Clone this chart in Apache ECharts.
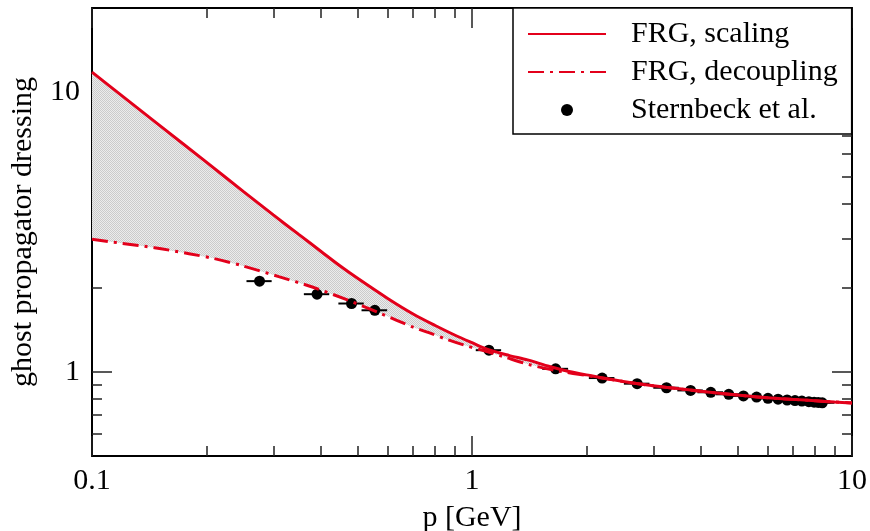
<!DOCTYPE html>
<html><head><meta charset="utf-8">
<script src="https://cdn.jsdelivr.net/npm/echarts@6/dist/echarts.min.js"></script>
<style>html,body{margin:0;padding:0;background:#fff}#c{width:870px;height:531px}</style>
</head><body><div id="c"></div>
<script>
// ---- data ----
const xMajorTicks = [0.1, 1, 10];
const xMinorTicks = [0.2, 0.3, 0.4, 0.5, 0.6, 0.7, 0.8, 0.9, 2, 3, 4, 5, 6, 7, 8, 9];
const yMajorTicks = [1, 10];
const yMinorTicks = [0.6, 0.7, 0.8, 0.9, 2, 3, 4, 5, 6, 7, 8, 9];

const pScaling = [0.1, 0.12, 0.15, 0.2, 0.25, 0.3, 0.35, 0.4, 0.45, 0.5, 0.6, 0.7, 0.8, 0.9, 1.0, 1.1, 1.25, 1.4, 1.6, 1.8, 2.0, 2.5, 3, 4, 5, 6, 7, 8, 9, 10];
const gScaling = [11.79, 9.70, 7.64, 5.62, 4.42, 3.64, 3.10, 2.70, 2.39, 2.16, 1.83, 1.61, 1.464, 1.354, 1.271, 1.203, 1.145, 1.103, 1.045, 1.003, 0.975, 0.923, 0.891, 0.852, 0.826, 0.807, 0.797, 0.788, 0.780, 0.774];

const pDecoupling = [0.1, 0.12, 0.146, 0.18, 0.21, 0.25, 0.31, 0.38, 0.47, 0.57, 0.7, 0.77, 0.86, 0.95, 1.05, 1.2, 1.42, 1.7, 2.0, 2.5, 3, 4, 5, 6, 7, 8, 9, 10];
const gDecoupling = [2.98, 2.88, 2.78, 2.645, 2.54, 2.39, 2.19, 2.01, 1.807, 1.625, 1.444, 1.38, 1.305, 1.248, 1.20, 1.137, 1.06, 1.005, 0.97, 0.923, 0.891, 0.852, 0.826, 0.807, 0.797, 0.788, 0.780, 0.774];

const pLattice = [0.276, 0.391, 0.482, 0.555, 1.108, 1.66, 2.20, 2.72, 3.25, 3.76, 4.25, 4.74, 5.18, 5.61, 6.01, 6.39, 6.75, 7.08, 7.38, 7.7, 7.95, 8.15, 8.35];
const gLattice = [2.11, 1.895, 1.755, 1.66, 1.195, 1.025, 0.95, 0.907, 0.877, 0.858, 0.845, 0.831, 0.82, 0.812, 0.804, 0.798, 0.793, 0.789, 0.786, 0.782, 0.779, 0.777, 0.775];
const pLatticeErr = [0.021, 0.030, 0.037, 0.043, 0.085, 0.13, 0.17, 0.21, 0.25, 0.29, 0.33, 0.36, 0.40, 0.43, 0.46, 0.49, 0.52, 0.55, 0.57, 0.59, 0.61, 0.63, 0.64];

// ---- style ----
const RED = '#e3001b';
const FONT = 'Liberation Serif';
const pc = document.createElement('canvas');
pc.width = 2; pc.height = 2;
const g2 = pc.getContext('2d');
g2.fillStyle = '#ececec'; g2.fillRect(0, 0, 2, 2);
g2.fillStyle = '#cbcbcb'; g2.fillRect(0, 0, 1, 1); g2.fillRect(1, 1, 1, 1);
const pattern = { image: pc, repeat: 'repeat' };

const tickStyle = { color: '#222', width: 1.5 };
function logAxis(pos, min, max, ticks, len, withLine, extra) {
  return Object.assign({
    type: 'log', logBase: 10, position: pos, min: min, max: max,
    axisLine: { show: withLine, onZero: false, lineStyle: { color: '#000', width: 2 } },
    axisTick: { show: true, inside: true, length: len, customValues: ticks, lineStyle: tickStyle },
    axisLabel: { show: false },
    splitLine: { show: false }, minorTick: { show: false }
  }, extra || {});
}
const labelStyle = { fontFamily: FONT, fontSize: 30, color: '#000' };
const fmt = v => String(+(+v).toPrecision(3));
const noSymbol = { color: 'rgba(0,0,0,0)', opacity: 0 };

const chart = echarts.init(document.getElementById('c'));
chart.setOption({
  animation: false,
  backgroundColor: '#fff',
  grid: { left: 92, right: 18, top: 8, bottom: 75, containLabel: false, outerBoundsMode: 'none' },
  xAxis: [
    logAxis('bottom', 0.1, 10, xMajorTicks, 20, true, {
      axisLabel: Object.assign({ show: true, customValues: xMajorTicks, margin: 10, formatter: fmt }, labelStyle),
      name: 'p [GeV]', nameLocation: 'middle', nameGap: 47,
      nameTextStyle: labelStyle
    }),
    logAxis('bottom', 0.1, 10, xMinorTicks, 10, false),
    logAxis('top', 0.1, 10, xMajorTicks, 20, true),
    logAxis('top', 0.1, 10, xMinorTicks, 10, false)
  ],
  yAxis: [
    logAxis('left', 0.5, 20, yMajorTicks, 20, true, {
      axisLabel: Object.assign({ show: true, customValues: yMajorTicks, margin: 12, formatter: fmt }, labelStyle),
      name: 'ghost propagator dressing', nameLocation: 'middle', nameGap: 54,
      nameTextStyle: labelStyle
    }),
    logAxis('left', 0.5, 20, yMinorTicks, 10, false),
    logAxis('right', 0.5, 20, yMajorTicks, 20, true),
    logAxis('right', 0.5, 20, yMinorTicks, 10, false)
  ],
  legend: {
    data: [
      { name: 'FRG, scaling', itemStyle: noSymbol },
      { name: 'FRG, decoupling', itemStyle: noSymbol },
      { name: 'Sternbeck et al.' }
    ],
    orient: 'vertical', left: 513, top: 8,
    padding: [11, 14, 9, 14], itemGap: 8,
    itemWidth: 78, itemHeight: 12,
    backgroundColor: '#fff', borderColor: '#000', borderWidth: 1.5, borderRadius: 0,
    textStyle: Object.assign({ padding: [0, 0, 0, 20] }, labelStyle),
    selectedMode: false
  },
  series: [
    {
      type: 'custom', name: 'band', silent: true, z: 1,
      data: [[pScaling[0], gScaling[0]]],
      renderItem: function (params, api) {
        const pts = [];
        for (let i = 0; i < pScaling.length; i++) if (pScaling[i] <= 2.5) pts.push(api.coord([pScaling[i], gScaling[i]]));
        for (let i = pDecoupling.length - 1; i >= 0; i--) if (pDecoupling[i] <= 2.5) pts.push(api.coord([pDecoupling[i], gDecoupling[i]]));
        return { type: 'polygon', shape: { points: pts }, style: { fill: pattern, stroke: null } };
      }
    },
    {
      type: 'custom', name: 'errors', silent: true, z: 3,
      data: pLattice.map((p, i) => [p, gLattice[i], p - pLatticeErr[i], p + pLatticeErr[i]]),
      encode: { x: [0, 2, 3], y: 1 },
      renderItem: function (params, api) {
        const a = api.coord([api.value(2), api.value(1)]);
        const b = api.coord([api.value(3), api.value(1)]);
        return { type: 'line', shape: { x1: a[0], y1: a[1], x2: b[0], y2: b[1] }, style: { stroke: '#000', lineWidth: 2 } };
      }
    },
    {
      type: 'scatter', name: 'Sternbeck et al.', z: 4,
      data: pLattice.map((p, i) => [p, gLattice[i]]),
      symbol: 'circle', symbolSize: 11,
      itemStyle: { color: '#000', opacity: 1 }
    },
    {
      type: 'line', name: 'FRG, decoupling', z: 5,
      data: pDecoupling.map((p, i) => [p, gDecoupling[i]]),
      symbol: 'none', smooth: 0.3,
      lineStyle: { color: RED, width: 3, type: [16, 6, 3, 6] },
      itemStyle: { color: RED }
    },
    {
      type: 'line', name: 'FRG, scaling', z: 6,
      data: pScaling.map((p, i) => [p, gScaling[i]]),
      symbol: 'none', smooth: 0.3,
      lineStyle: { color: RED, width: 3 },
      itemStyle: { color: RED }
    }
  ]
});
</script>
</body></html>
